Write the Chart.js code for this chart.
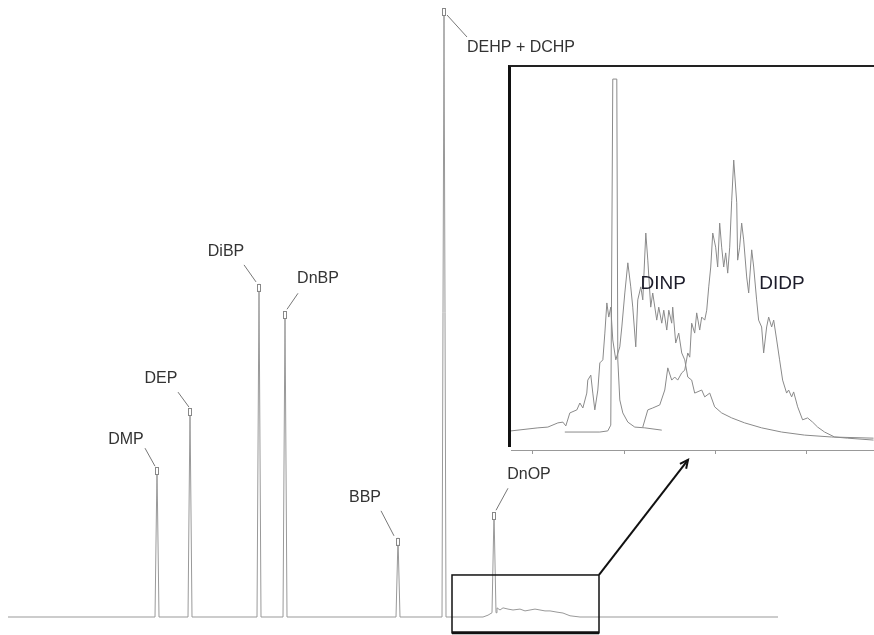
<!DOCTYPE html>
<html>
<head>
<meta charset="utf-8">
<script src="https://cdn.jsdelivr.net/npm/chart.js@4.4.1/dist/chart.umd.min.js"></script>
<style>
  html, body { margin: 0; padding: 0; background: #fff; }
  #wrap { position: relative; width: 874px; height: 635px; overflow: hidden; }
  #main { position: absolute; left: 0; top: 0; }
  #insetFrame { position: absolute; left: 508px; top: 65px; width: 366px; height: 382px;
                border-left: 3px solid #111; border-top: 2px solid #222; box-sizing: border-box; }
  #inset { position: absolute; left: 511px; top: 67px; }
</style>
</head>
<body>
<div id="wrap">
  <canvas id="main" width="874" height="635"></canvas>
  <div id="insetFrame"></div>
  <canvas id="inset" width="363" height="391"></canvas>
</div>
<script>
// ---------- main chromatogram data (retention axis in arbitrary units, intensity 0-100) ----------
const peakNames   = ['DMP', 'DEP', 'DiBP', 'DnBP', 'BBP', 'DEHP + DCHP', 'DnOP'];
const peakTimes   = [14.9, 18.2, 25.1, 27.7, 39.0, 43.6, 48.6];
const peakHeights = [24.6, 34.3, 54.7, 50.2, 13.0, 100.0, 17.2];
const peakBases   = [0, 0, 0, 0, 0, 0, 0.7];
const humpTimes   = [47.5, 48.0, 48.9, 49.2, 49.5, 50.0, 50.5, 51.2, 51.7, 52.2, 52.7, 53.2, 53.7, 54.2, 54.9, 55.5, 56.2, 57.2];
const humpValues  = [0.0, 0.3, 1.5, 1.15, 1.5, 1.3, 1.15, 1.3, 1.0, 1.15, 1.3, 1.15, 1.0, 1.0, 0.8, 0.65, 0.2, 0.0];
const runStart = 0, runEnd = 77;
const zoomBoxTimes  = [44.4, 59.1];
const zoomBoxLevels = [-2.6, 6.9];
const arrowTip = [68.0, 25.8];

// ---------- inset (expanded region) data ----------
const insetTicks = [10, 20, 30, 40];
const dinpTimes  = [7.6, 10.55, 11.64, 12.74, 13.29, 13.61, 14.05, 14.82, 15.15, 15.48, 15.91, 16.02, 16.35, 16.57, 16.79, 17.12, 17.34, 17.67, 17.89, 18.11, 18.32, 18.54, 18.76, 19.09, 19.53, 19.75, 20.08, 20.41, 20.73, 20.95, 21.28, 21.50, 21.83, 22.05, 22.38, 22.60, 22.92, 23.14, 23.58, 23.80, 24.13, 24.35, 24.68, 24.90, 25.22, 25.33, 25.66, 25.99, 26.32, 26.65, 26.98, 27.41, 27.74, 28.51, 28.84, 29.39, 29.93, 30.70, 31.80, 33.22, 35.08, 37.27, 39.79, 42.75, 47.35];
const dinpValues = [5.0, 5.8, 6.0, 7.1, 7.3, 6.3, 9.7, 10.5, 12.3, 11.0, 14.9, 18.3, 19.6, 14.9, 10.5, 15.7, 22.8, 23.6, 30.6, 38.5, 34.8, 37.4, 28.8, 23.6, 27.0, 32.2, 41.1, 49.0, 42.7, 37.4, 27.0, 39.3, 42.7, 39.3, 56.8, 49.7, 37.4, 41.1, 34.0, 37.4, 33.2, 36.6, 31.4, 36.6, 33.2, 37.4, 28.0, 30.6, 25.4, 23.6, 19.1, 18.3, 14.9, 15.7, 13.9, 14.9, 11.3, 9.7, 8.4, 7.1, 5.8, 4.7, 3.9, 3.4, 3.1];
const didpTimes  = [22.05, 22.60, 23.14, 23.91, 24.46, 24.79, 25.22, 25.55, 25.88, 26.32, 26.65, 26.98, 27.20, 27.41, 27.74, 27.96, 28.29, 28.51, 28.84, 29.06, 29.28, 29.50, 29.72, 30.04, 30.26, 30.48, 30.70, 30.92, 31.14, 31.36, 31.58, 31.80, 32.02, 32.35, 32.45, 32.67, 32.89, 33.11, 33.44, 33.66, 33.99, 34.21, 34.53, 34.75, 35.08, 35.30, 35.63, 35.85, 36.18, 36.40, 36.73, 37.05, 37.38, 37.82, 38.04, 38.37, 38.59, 39.03, 39.57, 40.12, 40.67, 41.22, 41.98, 43.08, 44.50, 47.35];
const didpValues = [6.0, 10.5, 11.0, 11.8, 15.7, 21.5, 18.3, 19.1, 18.3, 20.2, 20.9, 25.4, 24.3, 33.2, 30.6, 35.9, 31.4, 34.8, 34.0, 36.6, 42.7, 47.9, 56.8, 53.1, 47.9, 59.4, 53.1, 47.9, 51.6, 46.3, 53.1, 65.4, 75.9, 64.7, 49.7, 53.1, 59.4, 55.0, 45.3, 41.1, 52.4, 47.9, 39.3, 34.0, 32.2, 25.4, 32.2, 34.8, 32.2, 34.0, 28.8, 23.6, 18.3, 14.9, 15.7, 13.9, 15.2, 11.3, 7.9, 8.4, 7.3, 6.0, 4.7, 3.4, 3.1, 2.6];
const dehpTimes  = [13.5, 17.34, 18.21, 18.54, 18.76, 19.20, 19.31, 19.53, 19.86, 20.41, 21.17, 22.27, 24.13];
const dehpValues = [4.7, 4.7, 5.0, 6.5, 97.1, 97.1, 23.6, 13.1, 9.7, 7.3, 6.0, 5.8, 5.2];
const insetLabels = ['DINP', 'DIDP'];
const insetLabelPos = [[24.3, 43.5], [37.3, 43.5]];

// ---------- build main trace ----------
const mainTrace = [{x: runStart, y: 0}, {x: runEnd, y: 0}];
peakTimes.forEach((t, i) => {
  mainTrace.push({x: t - 0.2, y: peakBases[i]}, {x: t, y: peakHeights[i]}, {x: t + 0.2, y: peakBases[i]});
});
humpTimes.forEach((t, i) => mainTrace.push({x: t, y: humpValues[i]}));
mainTrace.sort((a, b) => a.x - b.x);

// label placement (pixel offsets relative to each peak apex)
const labelLayout = [
  {text: [-31, -28], from: [-12, -19], to: [-2, -1]},
  {text: [-29, -30], from: [-12, -16], to: [-1, -1]},
  {text: [-33, -32], from: [-15, -19], to: [-3, -2]},
  {text: [33, -33],  from: [13, -18],  to: [2, -2]},
  {text: [-33, -40], from: [-17, -27], to: [-4, -2]},
  {text: [77, 40],   from: [23, 29],   to: [3, 7]},
  {text: [35, -38],  from: [14, -24],  to: [2, -2]}
];

const mainDecor = {
  id: 'mainDecor',
  afterDatasetsDraw(chart) {
    const ctx = chart.ctx, xs = chart.scales.x, ys = chart.scales.y;
    ctx.save();
    peakTimes.forEach((t, i) => {
      const px = xs.getPixelForValue(t), py = ys.getPixelForValue(peakHeights[i]);
      const L = labelLayout[i];
      // peak marker
      ctx.fillStyle = '#fff';
      ctx.fillRect(px - 1.5, py, 3, 7);
      ctx.strokeStyle = '#888'; ctx.lineWidth = 1;
      ctx.strokeRect(Math.round(px) - 1.5, Math.round(py) + 0.5, 3, 7);
      // leader
      ctx.strokeStyle = '#777';
      ctx.beginPath();
      ctx.moveTo(px + L.from[0], py + L.from[1]);
      ctx.lineTo(px + L.to[0], py + L.to[1]);
      ctx.stroke();
      // text
      ctx.fillStyle = '#333';
      ctx.font = '16px "Liberation Sans", Arial, sans-serif';
      ctx.textAlign = 'center'; ctx.textBaseline = 'middle';
      ctx.fillText(peakNames[i], px + L.text[0], py + L.text[1]);
    });
    // zoom box
    const bx0 = xs.getPixelForValue(zoomBoxTimes[0]), bx1 = xs.getPixelForValue(zoomBoxTimes[1]);
    const by0 = ys.getPixelForValue(zoomBoxLevels[1]), by1 = ys.getPixelForValue(zoomBoxLevels[0]);
    ctx.strokeStyle = '#111'; ctx.lineWidth = 1.5;
    ctx.strokeRect(bx0, by0, bx1 - bx0, by1 - by0);
    ctx.lineWidth = 3;
    ctx.beginPath(); ctx.moveTo(bx0, by1); ctx.lineTo(bx1, by1); ctx.stroke();
    // arrow
    const ax = xs.getPixelForValue(arrowTip[0]), ay = ys.getPixelForValue(arrowTip[1]);
    ctx.lineWidth = 2;
    ctx.beginPath(); ctx.moveTo(bx1, by0); ctx.lineTo(ax, ay); ctx.stroke();
    const ang = Math.atan2(ay - by0, ax - bx1);
    ctx.beginPath();
    ctx.moveTo(ax - 9 * Math.cos(ang - 0.45), ay - 9 * Math.sin(ang - 0.45));
    ctx.lineTo(ax, ay);
    ctx.lineTo(ax - 9 * Math.cos(ang + 0.45), ay - 9 * Math.sin(ang + 0.45));
    ctx.stroke();
    ctx.restore();
  }
};

new Chart(document.getElementById('main'), {
  type: 'scatter',
  data: { datasets: [{
    data: mainTrace, showLine: true, borderColor: '#999', borderWidth: 1,
    pointRadius: 0, tension: 0, clip: false
  }]},
  options: {
    responsive: false, animation: false, devicePixelRatio: 1,
    layout: { padding: { left: 8, right: 96, top: 8, bottom: 18 } },
    plugins: { legend: { display: false }, tooltip: { enabled: false } },
    scales: {
      x: { type: 'linear', min: runStart, max: runEnd, display: false },
      y: { type: 'linear', min: 0, max: 100, display: false }
    }
  },
  plugins: [mainDecor]
});

// ---------- inset ----------
const toXY = (ts, vs) => ts.map((t, i) => ({x: t, y: vs[i]}));
const insetDecor = {
  id: 'insetDecor',
  afterDatasetsDraw(chart) {
    const ctx = chart.ctx, xs = chart.scales.x, ys = chart.scales.y;
    ctx.save();
    ctx.fillStyle = '#1c1c2a';
    ctx.font = '19px "Liberation Sans", Arial, sans-serif';
    ctx.textAlign = 'center'; ctx.textBaseline = 'middle';
    insetLabels.forEach((s, i) => {
      ctx.fillText(s, xs.getPixelForValue(insetLabelPos[i][0]), ys.getPixelForValue(insetLabelPos[i][1]));
    });
    ctx.restore();
  }
};
const lineDs = (data) => ({ data, showLine: true, borderColor: '#8a8a8a', borderWidth: 1, pointRadius: 0, tension: 0 });
new Chart(document.getElementById('inset'), {
  type: 'scatter',
  data: { datasets: [ lineDs(toXY(dinpTimes, dinpValues)), lineDs(toXY(didpTimes, didpValues)), lineDs(toXY(dehpTimes, dehpValues)) ] },
  options: {
    responsive: false, animation: false, devicePixelRatio: 1,
    layout: { padding: { left: 0, right: 0, top: 1, bottom: 4 } },
    plugins: { legend: { display: false }, tooltip: { enabled: false } },
    scales: {
      x: { type: 'linear', min: 7.6, max: 47.4,
           afterBuildTicks: (s) => { s.ticks = insetTicks.map(v => ({value: v})); },
           ticks: { display: false },
           grid: { display: true, drawOnChartArea: false, drawTicks: true, tickLength: 4, color: '#999' },
           border: { display: true, color: '#999', width: 1 } },
      y: { type: 'linear', min: 0, max: 100, display: false }
    }
  },
  plugins: [insetDecor]
});
</script>
</body>
</html>
